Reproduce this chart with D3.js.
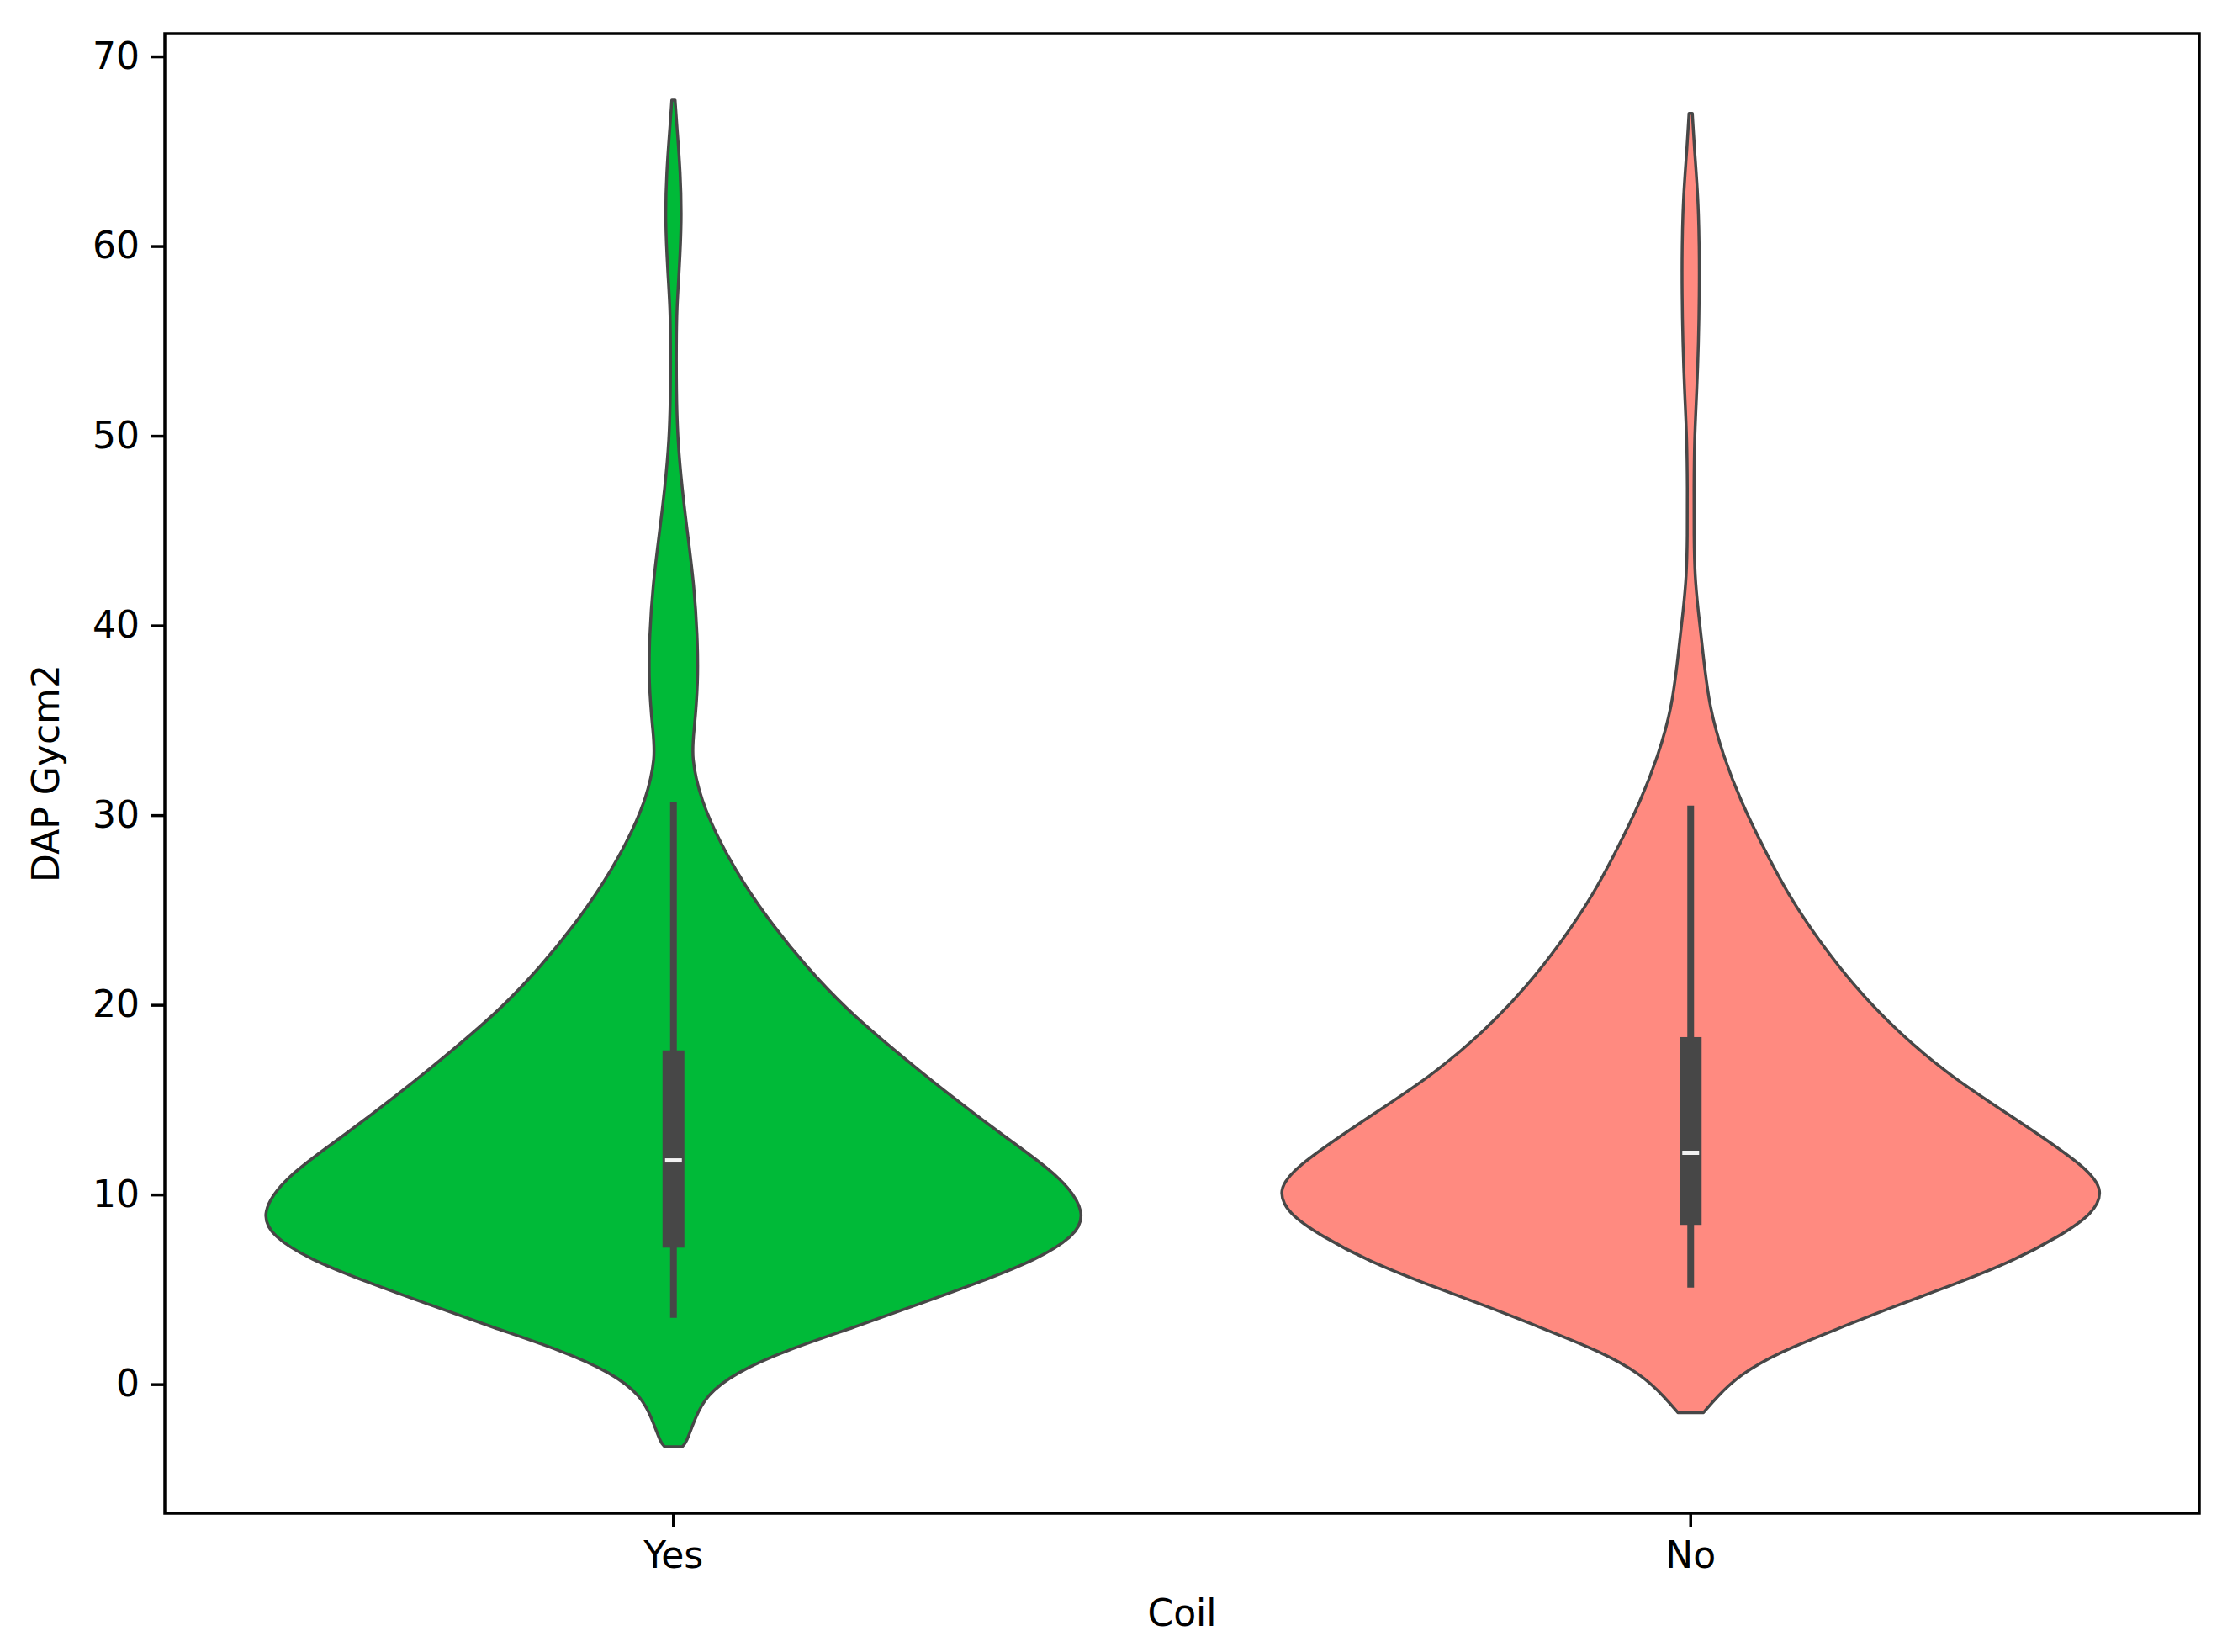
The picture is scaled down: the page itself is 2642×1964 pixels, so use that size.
<!DOCTYPE html>
<html>
<head>
<meta charset="utf-8">
<script src="https://cdn.jsdelivr.net/npm/d3@7"></script>
<style>
  html, body { margin: 0; padding: 0; background: #ffffff; }
  svg { display: block; font-family: "DejaVu Sans", sans-serif; }
</style>
</head>
<body>
<svg id="chart" width="2642" height="1964"></svg>
<script>
// ---------------- data ----------------
const categories = ["Yes", "No"];
const colors = ["#00BA38", "#FF8A80"];
const yTicks = [0, 10, 20, 30, 40, 50, 60, 70];

// KDE profile: value grid and relative density (max = 1)
const yesValues  = [-3.3, -3.1, -1.8, -0.6, 0.6, 1.8, 3.0, 4.2, 5.4, 6.6, 7.8, 9.0, 10.9, 13.1, 15.3, 17.6, 19.8, 22.0, 24.2, 26.4, 28.6, 30.8, 33.1, 34.4, 37.0, 39.5, 42.1, 44.7, 47.2, 49.8, 52.4, 54.9, 56.7, 58.7, 61.3, 63.9, 66.4, 67.7];
const yesDensity = [0.021, 0.031, 0.052, 0.079, 0.149, 0.273, 0.438, 0.591, 0.744, 0.882, 0.971, 1.0, 0.942, 0.798, 0.665, 0.535, 0.417, 0.322, 0.240, 0.169, 0.112, 0.066, 0.043, 0.050, 0.060, 0.058, 0.050, 0.035, 0.021, 0.010, 0.007, 0.007, 0.008, 0.014, 0.020, 0.017, 0.008, 0.004];

const noValues  = [-1.5, -0.7, 0.5, 1.7, 2.9, 4.1, 5.3, 6.5, 7.8, 9.0, 10.2, 11.4, 13.8, 16.2, 18.6, 21.0, 23.4, 25.8, 28.2, 30.7, 33.1, 35.7, 38.3, 40.8, 42.6, 44.7, 47.2, 49.8, 52.4, 54.9, 57.5, 60.0, 62.6, 65.1, 67.0];
const noDensity = [0.031, 0.062, 0.118, 0.215, 0.353, 0.492, 0.643, 0.781, 0.893, 0.975, 1.0, 0.961, 0.800, 0.630, 0.500, 0.395, 0.310, 0.236, 0.178, 0.122, 0.079, 0.045, 0.031, 0.018, 0.010, 0.008, 0.008, 0.009, 0.015, 0.019, 0.021, 0.021, 0.018, 0.009, 0.004];

// box statistics: [Yes, No]
const q1Values     = [7.2, 8.4];
const medianValues = [11.8, 12.2];
const q3Values     = [17.6, 18.3];
const whiskerLow   = [3.5, 5.1];
const whiskerHigh  = [30.7, 30.5];

const xLabel = "Coil";
const yLabel = "DAP Gycm2";

// ---------------- layout ----------------
const svg = d3.select("#chart");
const M = { left: 196, right: 2615, top: 40, bottom: 1799 };
const FONT = 44;

const x = d3.scaleBand().domain(categories).range([M.left, M.right]).padding(0);
const y = d3.scaleLinear().domain([-6.8, 71.2]).range([M.bottom, M.top]);
// basis smoothing pulls the peak in by ~1.5 %, compensate in the width range
const w = d3.scaleLinear().domain([0, 1]).range([0, x.bandwidth() * 0.4 / 0.985]);

const profiles = [
  yesValues.map((v, i) => ({ v, d: yesDensity[i] })),
  noValues.map((v, i) => ({ v, d: noDensity[i] }))
];

const edge = "#474747";

categories.forEach((cat, i) => {
  const cx = x(cat) + x.bandwidth() / 2;
  const area = d3.area()
    .y(d => y(d.v))
    .x0(d => cx - w(d.d))
    .x1(d => cx + w(d.d))
    .curve(d3.curveBasis);
  svg.append("path")
    .attr("d", area(profiles[i]))
    .attr("fill", colors[i])
    .attr("stroke", edge)
    .attr("stroke-width", 3.5)
    .attr("stroke-linejoin", "round");

  // whisker
  svg.append("line")
    .attr("x1", cx).attr("x2", cx)
    .attr("y1", y(whiskerLow[i])).attr("y2", y(whiskerHigh[i]))
    .attr("stroke", edge).attr("stroke-width", 8);
  // box
  svg.append("rect")
    .attr("x", cx - 13).attr("width", 26)
    .attr("y", y(q3Values[i])).attr("height", y(q1Values[i]) - y(q3Values[i]))
    .attr("fill", edge);
  // median
  svg.append("line")
    .attr("x1", cx - 10).attr("x2", cx + 10)
    .attr("y1", y(medianValues[i])).attr("y2", y(medianValues[i]))
    .attr("stroke", "#f2f2f2").attr("stroke-width", 5);
});

// ---------------- axes ----------------
const yAxis = d3.axisLeft(y).tickValues(yTicks).tickSize(16).tickPadding(14).tickFormat(d3.format("d"));
const gy = svg.append("g").attr("transform", `translate(${M.left},0)`).call(yAxis);
gy.select(".domain").remove();
gy.selectAll(".tick line").attr("stroke", "#000").attr("stroke-width", 3.5);
gy.selectAll(".tick text").attr("font-size", FONT).attr("fill", "#000")
  .attr("font-family", "DejaVu Sans, sans-serif");

const xAxis = d3.axisBottom(x).tickSize(16).tickPadding(18);
const gx = svg.append("g").attr("transform", `translate(0,${M.bottom})`).call(xAxis);
gx.select(".domain").remove();
gx.selectAll(".tick line").attr("stroke", "#000").attr("stroke-width", 3.5);
gx.selectAll(".tick text").attr("font-size", FONT).attr("fill", "#000")
  .attr("font-family", "DejaVu Sans, sans-serif");

// frame
svg.append("rect")
  .attr("x", M.left).attr("y", M.top)
  .attr("width", M.right - M.left).attr("height", M.bottom - M.top)
  .attr("fill", "none").attr("stroke", "#000").attr("stroke-width", 3.5);

// labels
svg.append("text")
  .attr("x", (M.left + M.right) / 2).attr("y", 1933)
  .attr("text-anchor", "middle").attr("font-size", FONT).attr("fill", "#000")
  .text(xLabel);
svg.append("text")
  .attr("transform", `translate(70,${(M.top + M.bottom) / 2}) rotate(-90)`)
  .attr("text-anchor", "middle").attr("font-size", FONT).attr("fill", "#000")
  .text(yLabel);
</script>
</body>
</html>
